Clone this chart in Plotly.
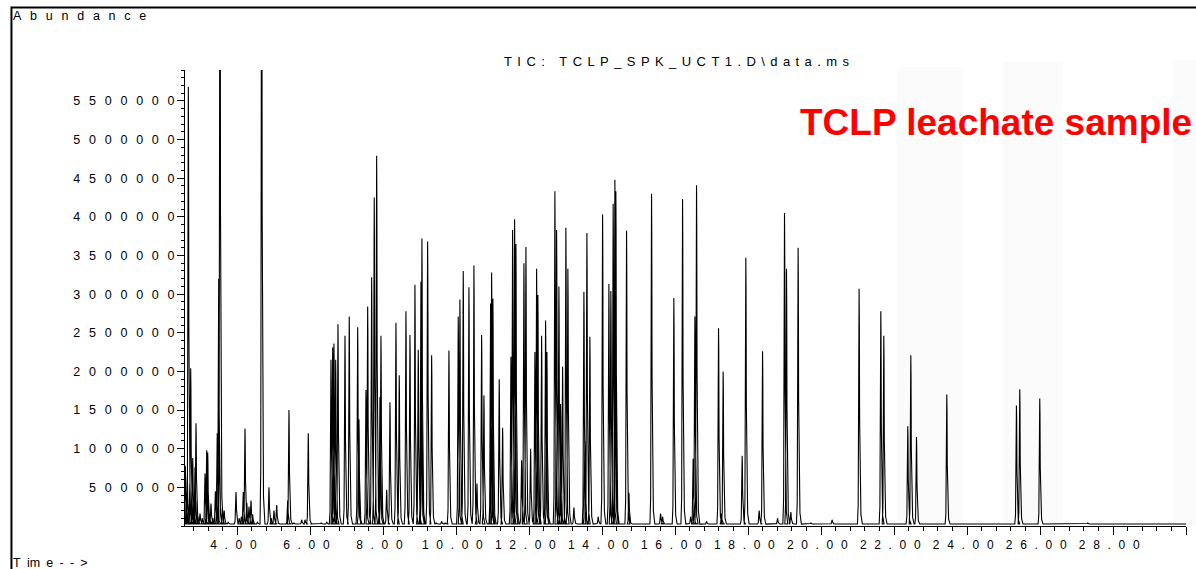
import plotly.graph_objects as go

# ---------------- data ----------------
# retention time (min) of each peak apex
peak_rt = [
    2.575, 2.605, 2.63, 2.658, 2.70, 2.723, 2.755, 2.778, 2.81, 2.841, 2.868, 2.92, 2.978, 3.04,
    3.115, 3.162, 3.189, 3.24, 3.279, 3.33, 3.40, 3.45, 3.49, 3.526, 3.59, 3.64, 3.75, 3.964,
    4.05, 4.11, 4.164, 4.211, 4.26, 4.32, 4.375, 4.42, 4.55, 4.668, 4.868, 4.93, 5.005, 5.079,
    5.2, 5.381, 5.416, 5.55, 5.764, 5.855, 5.945, 6.05, 6.3, 6.45,
    6.567, 6.614, 6.649, 6.696, 6.759, 6.951, 7.068, 7.299, 7.334, 7.526, 7.573, 7.682, 7.753,
    7.819, 7.91, 7.937, 8.093, 8.184, 8.348, 8.438, 8.622, 8.732, 8.868, 8.959, 9.033, 9.06,
    9.216, 9.326, 9.45, 9.6, 9.7, 9.8,
    10.055, 10.101, 10.192, 10.348, 10.485, 10.567, 10.696, 10.759, 10.942, 10.97, 11.005,
    11.178, 11.271, 11.499, 11.545, 11.6, 11.636, 11.792, 11.855, 11.91, 12.038, 12.156, 12.203,
    12.238, 12.34, 12.449, 12.485, 12.704, 12.751, 12.814, 12.86, 12.915, 13.005, 13.06, 13.225,
    13.499, 13.526, 13.581, 13.663, 13.89, 14.011, 14.184, 14.238, 14.301, 14.348, 14.375,
    14.668, 14.732, 15.0, 15.353, 15.6, 15.655, 15.964, 16.203, 16.422, 16.493, 16.54, 16.586,
    16.86, 17.189, 17.27, 17.315, 17.836, 17.937, 18.301, 18.395, 18.805, 18.997, 19.051, 19.17,
    19.37, 19.718, 20.301, 21.041, 21.636, 21.718, 22.375, 22.458, 22.614, 23.444, 25.353,
    25.444, 25.992, 27.307, 28.978,
]
# apex abundance (counts) of each peak
peak_abundance = [
    0.78e6, 0.42e6, 0.62e6, 5.68e6, 0.55e6, 2.04e6, 0.45e6, 0.88e6, 0.35e6, 0.76e6, 1.33e6, 0.12e6, 0.16e6, 0.10e6,
    0.68e6, 0.98e6, 0.95e6, 0.15e6, 0.29e6, 0.10e6, 0.45e6, 1.2e6, 3.2e6, 9.0e6, 0.23e6, 0.20e6, 0.05e6, 0.44e6,
    0.10e6, 0.12e6, 0.44e6, 1.26e6, 0.30e6, 0.25e6, 0.33e6, 0.15e6, 0.05e6, 9.0e6, 0.50e6, 0.10e6, 0.20e6, 0.27e6,
    0.03e6, 0.33e6, 1.50e6, 0.04e6, 0.08e6, 0.08e6, 1.20e6, 0.03e6, 0.04e6, 0.05e6,
    2.15e6, 2.31e6, 2.36e6, 2.15e6, 2.61e6, 2.46e6, 2.71e6, 2.57e6, 1.38e6, 1.76e6, 2.84e6, 3.22e6, 4.25e6,
    4.79e6, 1.67e6, 2.46e6, 0.47e6, 1.60e6, 2.63e6, 1.95e6, 2.78e6, 2.47e6, 3.12e6, 2.28e6, 3.16e6, 3.72e6,
    3.68e6, 2.21e6, 0.04e6, 0.06e6, 0.04e6, 2.27e6,
    2.71e6, 2.93e6, 3.30e6, 3.09e6, 3.37e6, 0.55e6, 2.47e6, 1.69e6, 2.88e6, 3.28e6, 2.94e6,
    1.90e6, 1.27e6, 2.19e6, 3.83e6, 3.97e6, 3.65e6, 0.85e6, 3.40e6, 3.61e6, 1.00e6, 2.25e6, 3.33e6,
    2.99e6, 2.46e6, 2.66e6, 2.25e6, 4.33e6, 3.83e6, 3.10e6, 1.58e6, 2.06e6, 3.86e6, 3.33e6, 0.24e6,
    3.03e6, 1.10e6, 3.79e6, 2.45e6, 0.12e6, 4.03e6, 3.13e6, 3.04e6, 4.17e6, 4.48e6, 4.33e6,
    3.82e6, 0.43e6, 0.03e6, 4.30e6, 0.16e6, 0.12e6, 2.95e6, 4.23e6, 0.12e6, 0.87e6, 2.71e6, 4.41e6,
    0.06e6, 2.56e6, 0.16e6, 2.00e6, 0.91e6, 3.47e6, 0.20e6, 2.26e6, 0.10e6, 4.05e6, 3.33e6, 0.18e6,
    3.60e6, 0.04e6, 0.08e6, 3.07e6, 2.78e6, 2.46e6, 1.29e6, 2.21e6, 1.15e6, 1.70e6, 1.56e6,
    1.77e6, 1.65e6, 0.04e6, 0.03e6,
]
baseline_abundance = 25000

x_tick_vals = [4, 6, 8, 10, 12, 14, 16, 18, 20, 22, 24, 26, 28, 30]
x_tick_labels = ["4.00", "6.00", "8.00", "10.00", "12.00", "14.00", "16.00", "18.00",
                 "20.00", "22.00", "24.00", "26.00", "28.00", ""]
y_tick_vals = [500000, 1000000, 1500000, 2000000, 2500000, 3000000,
               3500000, 4000000, 4500000, 5000000, 5500000]
y_tick_labels = ["500000", "1000000", "1500000", "2000000", "2500000", "3000000",
                 "3500000", "4000000", "4500000", "5000000", "5500000"]

title_text = "TIC: TCLP_SPK_UCT1.D\\data.ms"
sample_text = "TCLP leachate sample"
y_label = "Abundance"
x_label = "Time-->"

# ---------------- styling helpers ----------------
FONT = "Liberation Sans, Arial, sans-serif"
SEP_X = "\u2007\u200a"          # wide letter spacing as in the instrument printout
SEP_Y = "\u2002\u2009"
SEP_TITLE = "\u2004\u200a"


def spaced(s, sep):
    return sep.join(s)


# peak outline template (offset in min, fraction of apex height) - drawing style only
shape_dt = [-0.045, -0.025, -0.012, -0.005, 0.0, 0.006, 0.014, 0.028, 0.05, 0.09]
shape_fr = [0.0, 0.08, 0.45, 0.9, 1.0, 0.88, 0.45, 0.12, 0.04, 0.0]

xs, ys = [2.5], [baseline_abundance]
for rt, h in sorted(zip(peak_rt, peak_abundance)):
    for dt, fr in zip(shape_dt, shape_fr):
        xs.append(rt + dt)
        ys.append(baseline_abundance + fr * (h - baseline_abundance))
xs.append(30.1)
ys.append(baseline_abundance)

# plot-area geometry in pixels
L, R, T, B = 185.0, 1185.7, 70.0, 525.6
W_FIG, H_FIG = 1196, 569


def px_x(px):
    return (px - L) / (R - L)


def px_y(py):
    return (B - py) / (B - T)


fig = go.Figure()
fig.add_trace(go.Scatter(x=xs, y=ys, mode="lines",
                         line=dict(color="black", width=1.1),
                         hoverinfo="skip", showlegend=False))

# very faint ghost bands visible in the scanned original
for x0, x1, y1 in [(897, 962, 67), (1003, 1062, 62), (1173, 1200, 60)]:
    fig.add_shape(type="rect", xref="paper", yref="paper",
                  x0=px_x(x0), x1=px_x(x1), y0=px_y(B), y1=px_y(y1),
                  fillcolor="#fbfbfb", line=dict(width=0), layer="below")

# outer frame
fig.add_shape(type="rect", xref="paper", yref="paper",
              x0=px_x(11.5), x1=px_x(1205), y0=px_y(580), y1=px_y(7.5),
              line=dict(color="black", width=2), fillcolor="rgba(0,0,0,0)")

fig.add_annotation(text=spaced(y_label, "\u2002\u2009"), xref="paper", yref="paper",
                   x=px_x(11), y=px_y(16.5), xanchor="left", yanchor="middle",
                   showarrow=False, font=dict(family=FONT, size=12.5, color="black"))
fig.add_annotation(text="T\u2002im\u2002e\u2002-\u2002-\u2002>", xref="paper", yref="paper",
                   x=px_x(11), y=px_y(562.5), xanchor="left", yanchor="middle",
                   showarrow=False, font=dict(family=FONT, size=12.5, color="black"))
fig.add_annotation(text=spaced(title_text, SEP_TITLE), xref="paper", yref="paper",
                   x=px_x(677), y=px_y(61.5), xanchor="center", yanchor="middle",
                   showarrow=False, font=dict(family=FONT, size=13, color="black"))
fig.add_annotation(text="<b>" + sample_text + "</b>", xref="paper", yref="paper",
                   x=px_x(798), y=px_y(122), xanchor="left", yanchor="middle",
                   showarrow=False, font=dict(family=FONT, size=37, color="#ff0000"))

fig.update_layout(
    width=W_FIG, height=H_FIG,
    margin=dict(l=L, r=W_FIG - R, t=T, b=H_FIG - B, pad=0),
    paper_bgcolor="white", plot_bgcolor="white",
    showlegend=False,
    xaxis=dict(range=[2.567, 30.0], showgrid=False, zeroline=False,
               showline=True, linecolor="black", linewidth=1,
               ticks="outside", ticklen=8, tickwidth=1, tickcolor="black",
               tickmode="array", tickvals=x_tick_vals,
               ticktext=[spaced(t, SEP_X) + SEP_X if t else "" for t in x_tick_labels],
               tickfont=dict(family=FONT, size=12, color="black"),
               minor=dict(ticks="outside", ticklen=4, tickwidth=1, tickcolor="black",
                          dtick=0.4, tick0=0, showgrid=False)),
    yaxis=dict(range=[0, 5.9e6], showgrid=False, zeroline=False,
               showline=True, linecolor="black", linewidth=1,
               ticks="outside", ticklen=7, tickwidth=1, tickcolor="black",
               tickmode="array", tickvals=y_tick_vals,
               ticktext=[spaced(t, SEP_Y) for t in y_tick_labels],
               tickfont=dict(family=FONT, size=12.5, color="black"),
               minor=dict(ticks="outside", ticklen=3, tickwidth=1, tickcolor="black",
                          dtick=100000, tick0=0, showgrid=False)),
)

fig.write_html("out.html")
